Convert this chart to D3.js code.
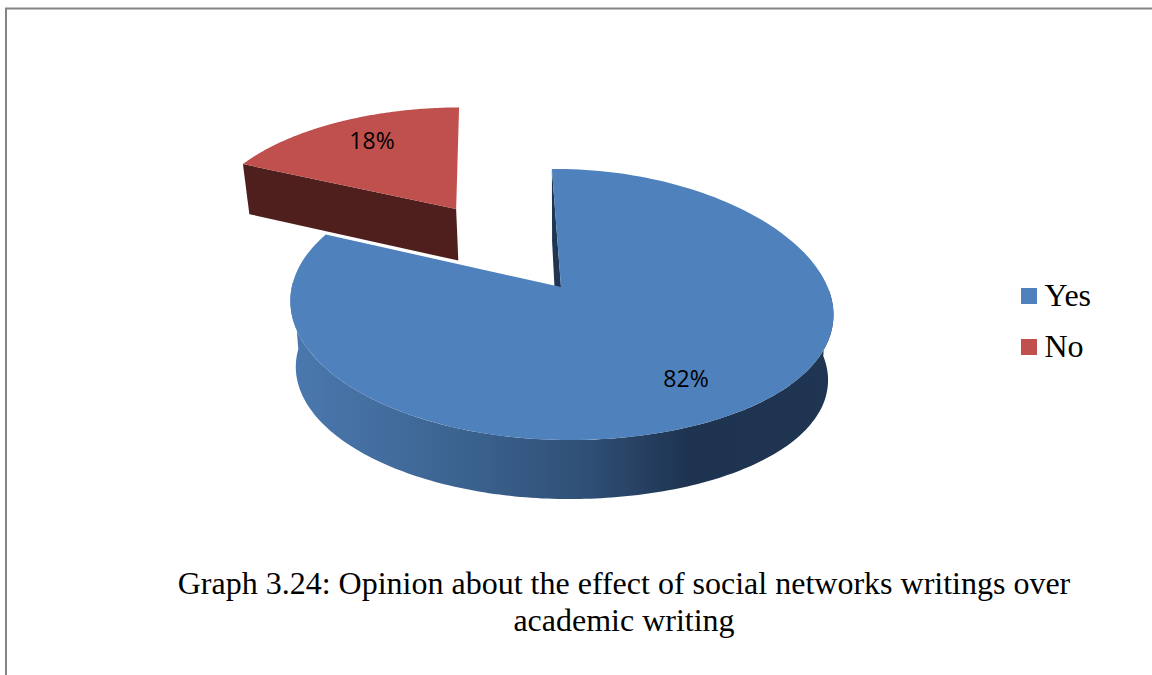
<!DOCTYPE html>
<html><head><meta charset="utf-8">
<script src="https://cdn.jsdelivr.net/npm/d3@7"></script>
<style>html,body{margin:0;padding:0;background:#fff}svg{display:block}</style>
</head><body><svg id="c" width="1152" height="675"></svg>
<script>
const categories = ["Yes", "No"];
const values = [82, 18];
const labels = ["82%", "18%"];
const topColors = ["#4f81bd", "#c0504d"];
const cutColors = ["#1f3552", "#4f1f1d"];
const titleLines = ["Graph 3.24: Opinion about the effect of social networks writings over", "academic writing"];

const svg = d3.select("#c");
const W = 1152, H = 675;

// frame
svg.append("path").attr("d", d3.line()([[6, H], [6, 8.5], [W, 8.5]]))
  .attr("fill", "none").attr("stroke", "#848484").attr("stroke-width", 2);

// projection of the tilted disc
const P = {x0: 561, y0: 287, a: 269.2, b: 133.3, k: 0.129, s: 7, sag: 7};
const project = (u, v) => {
  const w = 1 - P.k * v;
  const r = Math.max(0, u);
  return [P.x0 + (P.a * u + P.s * v) / w, P.y0 + P.b * v / w + P.sag * r * r];
};
const lowerYes = ([x, y]) => [562 + (x - 562) * 0.98, y * 0.95 + 81];
const lowerNo = ([x, y]) => [562 + (x - 562) * 0.98, y * 1.0324 + 44.75];
const rad = Math.PI / 180;

const pie = d3.pie().sort(null).value(d => d)
  .startAngle(-0.7 * rad).endAngle((360 - 0.7) * rad);
const arcs = pie(values);
const explode = [0, 0.76];

const centre = i => {
  const m = (arcs[i].startAngle + arcs[i].endAngle) / 2;
  return [explode[i] * Math.sin(m), -explode[i] * Math.cos(m)];
};
const rim = (i, t) => {
  const [cu, cv] = centre(i);
  return project(cu + Math.sin(t), cv - Math.cos(t));
};
const line = d3.line();
const sample = (t0, t1) => d3.range(0, 181).map(j => t0 + (t1 - t0) * j / 180);

const defs = svg.append("defs");
const grad = defs.append("linearGradient").attr("id", "wall")
  .attr("gradientUnits", "userSpaceOnUse")
  .attr("x1", 296).attr("x2", 828).attr("y1", 0).attr("y2", 0);
[[0, "#4a78ae"], [0.3, "#3c6491"], [0.55, "#2f4f75"], [0.74, "#1e3350"], [1, "#1f3552"]]
  .forEach(([o, c]) => grad.append("stop").attr("offset", o).attr("stop-color", c));

// ---- Yes slice
const yes = arcs[0];
const A = project(0, 0), S = rim(0, yes.startAngle);
const Ab = lowerYes(A), Sb = lowerYes(S);
Ab[0] -= 3;
svg.append("path").attr("d", line([S, A, Ab, Sb]) + "Z").attr("fill", cutColors[0]);

const front = sample(88 * rad, 272 * rad);
const frontTop = front.map(t => rim(0, t));
svg.append("path").attr("d", line(frontTop.concat(frontTop.map(lowerYes).reverse())) + "Z")
  .attr("fill", "url(#wall)");

const yesRim = sample(yes.startAngle, yes.endAngle).map(t => rim(0, t));
svg.append("path").attr("d", line([A].concat(yesRim)) + "Z").attr("fill", topColors[0]);

// ---- No slice
const no = arcs[1];
const noG = svg.append("g").attr("transform", "translate(2.5,0.5)");
const N = project(...centre(1));
const Nout = rim(1, no.startAngle);
const Nb = lowerNo(N), Noutb = lowerNo(Nout);
noG.append("path").attr("d", line([Noutb, Nb]))
  .attr("fill", "none").attr("stroke", "#fff").attr("stroke-width", 3)
  .attr("transform", "translate(0,1)");
noG.append("path").attr("d", line([Nout, N, Nb, Noutb]) + "Z").attr("fill", cutColors[1]);
const noRim = sample(no.startAngle, no.endAngle).map(t => rim(1, t));
noG.append("path").attr("d", line([N].concat(noRim)) + "Z").attr("fill", topColors[1]);

// ---- data labels
const labelAt = [[686, 387], [372, 149]];
svg.selectAll("text.lab").data(labels).join("text").attr("class", "lab")
  .attr("x", (d, i) => labelAt[i][0]).attr("y", (d, i) => labelAt[i][1])
  .attr("text-anchor", "middle").attr("font-family", "'Open Sans'").attr("font-size", 23)
  .attr("fill", "#000").text(d => d);

// ---- legend
const legendY = d3.scalePoint().domain(categories).range([288, 339]);
const lg = svg.selectAll("g.lg").data(categories).join("g").attr("class", "lg")
  .attr("transform", d => `translate(1021,${legendY(d)})`);
lg.append("rect").attr("width", 16).attr("height", 16).attr("fill", (d, i) => topColors[i]);
lg.append("text").attr("x", 23.5).attr("y", 18)
  .attr("font-family", "'Liberation Serif'").attr("font-size", 32).attr("fill", "#000").text(d => d);

// ---- caption
svg.selectAll("text.cap").data(titleLines).join("text").attr("class", "cap")
  .attr("x", 624).attr("y", (d, i) => 594 + i * 37).attr("text-anchor", "middle")
  .attr("font-family", "'Liberation Serif'").attr("font-size", 32).attr("fill", "#000").text(d => d);
</script></body></html>
